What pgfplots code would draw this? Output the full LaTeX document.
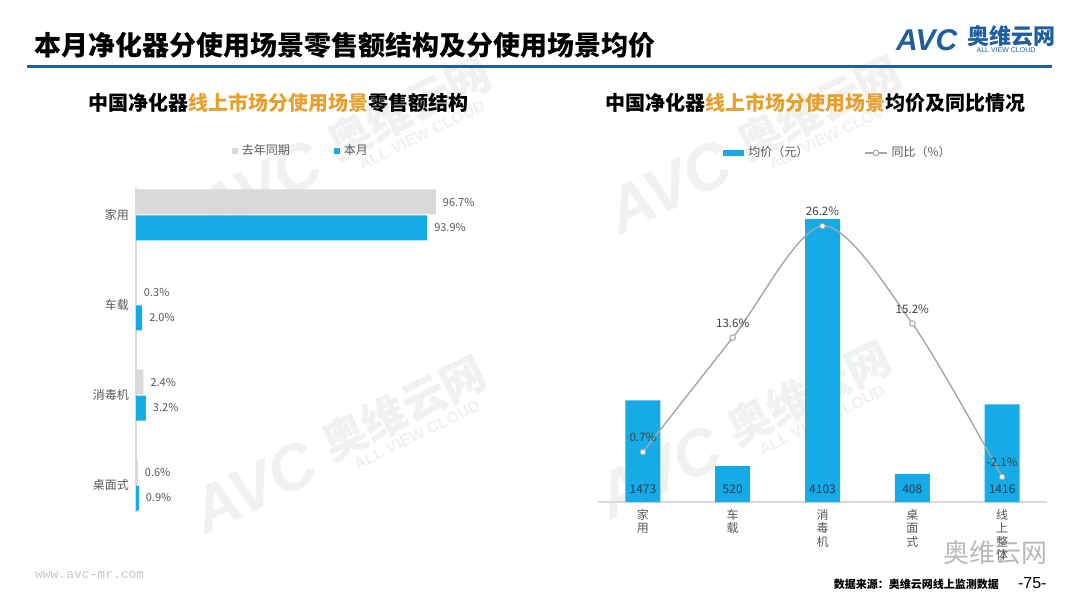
\documentclass[border=0pt]{standalone}
\usepackage{fontspec}
\setmainfont{Noto Sans CJK SC}
\newfontfamily\monofont{Liberation Mono}
\newfontfamily\logofont{Liberation Sans}
\usepackage{pgfplots}
\pgfplotsset{compat=1.18}
\definecolor{barblue}{HTML}{14ABE6}
\definecolor{bargray}{HTML}{D9D9D9}
\definecolor{txtgray}{HTML}{595959}
\definecolor{lbl}{HTML}{404040}
\definecolor{titleblue}{HTML}{1F5F9E}
\definecolor{gold}{HTML}{E5A12F}
\definecolor{linegray}{HTML}{A6A6A6}
\definecolor{navy}{HTML}{2B3A55}
\definecolor{wmgray}{HTML}{F1F1F1}
\newcommand{\fs}[1]{\fontsize{#1}{#1}\selectfont}

\begin{document}
\begin{tikzpicture}
% page frame in pixel units (y down)
\begin{scope}[x=0.5pt,y=-0.5pt]
\path[fill=white,use as bounding box] (0,0) rectangle (1080,608);
% faint watermarks
\foreach \wx/\wy in {335/150, 745/150, 330/450, 735/435} {
  \node[rotate=26,text=wmgray,font=\logofont\bfseries\itshape\fs{32}] at (\wx-76,\wy+37) {AVC};
  \node[rotate=26,text=wmgray,font=\bfseries\fs{22}] at (\wx+74,\wy-42) {奥维云网};
  \node[rotate=26,text=wmgray,font=\logofont\bfseries\fs{8}] at (\wx+87,\wy-15) {ALL VIEW CLOUD};
}
% header
\node[anchor=west,font=\bfseries\fs{13.5}] at (27,45) {本月净化器分使用场景零售额结构及分使用场景均价};
\draw[titleblue,line width=1.5pt] (27,67) -- (1052,67);
\node[anchor=west,text=titleblue,font=\logofont\bfseries\itshape\fs{15}] at (889,40) {AVC};
\node[anchor=west,text=titleblue,font=\bfseries\fs{11}] at (960,36) {奥维云网};
\node[text=titleblue,font=\logofont\fs{3.5}] at (1006,50) {ALL VIEW CLOUD};
% sub titles
\node[font=\bfseries\fs{10}] at (278,103) {中国净化器\textcolor{gold}{线上市场分使用场景}零售额结构};
\node[font=\bfseries\fs{10}] at (815,103) {中国净化器\textcolor{gold}{线上市场分使用场景}均价及同比情况};
% footer
\node[anchor=west,text=gray!45,font=\monofont\fs{6.5}] at (28,575) {www.avc-mr.com};
\node[anchor=west,text=gray!55,font=\fs{13}] at (936,553) {奥维云网};
\node[anchor=east,font=\bfseries\fs{5.5}] at (1006,584) {数据来源：奥维云网线上监测数据};
\node[anchor=west,font=\logofont\fs{8}] at (1011,583) {-75-};
\end{scope}

% left: share of retail sales by scenario (家用 on top)
\begin{axis}[
  at={(68pt,-256pt)}, anchor=south west, scale only axis,
  width=167pt, height=162pt,
  xmin=0, xmax=107.7, ymin=-0.3, ymax=3.3,
  axis x line=none, axis y line*=left,
  y axis line style={draw=bargray,line width=0.6pt},
  ytick={0,1,2,3}, yticklabels={桌面式,消毒机,车载,家用},
  ytick style={draw=none},
  yticklabel style={font=\fs{6},text=txtgray},
  legend columns=2,
  legend style={at={(0.497,1.114)},anchor=center,draw=none,fill=none,
    font=\fs{6},text=txtgray,
    /tikz/every even column/.append style={column sep=20pt}},
  lbls/.style={draw=none,mark=none,forget plot,point meta=explicit symbolic,
    nodes near coords={\pgfplotspointmeta},
    every node near coord/.append style={anchor=west,font=\fs{5.5},text=txtgray}},
]
\addplot[xbar,bar width=12.5pt,bar shift=6.5pt,fill=bargray,draw=none,
  legend image code/.code={\fill[bargray] (0pt,-1.5pt) rectangle (3pt,1.5pt);}]
  coordinates {(96.7,3) (0.3,2) (2.4,1) (0.6,0)};
\addlegendentry{去年同期}
\addplot[xbar,bar width=12.5pt,bar shift=-6.5pt,fill=barblue,draw=none,
  legend image code/.code={\fill[barblue] (0pt,-1.5pt) rectangle (3pt,1.5pt);}]
  coordinates {(93.9,3) (2.0,2) (3.2,1) (0.9,0)};
\addlegendentry{本月}
% value labels, offset by half a bar step (13px of 90px)
\addplot[lbls] coordinates {(96.7,3.144)[96.7\%] (0.3,2.144)[0.3\%] (2.4,1.144)[2.4\%] (0.6,0.144)[0.6\%]};
\addplot[lbls] coordinates {(93.9,2.856)[93.9\%] (2.0,1.856)[2.0\%] (3.2,0.856)[3.2\%] (0.9,-0.144)[0.9\%]};
\end{axis}

% right: average price (bars)
\begin{axis}[
  at={(299pt,-251pt)}, anchor=south west, scale only axis,
  width=224.5pt, height=153.5pt,
  xmin=-0.5, xmax=4.5, ymin=0, ymax=4451,
  axis x line*=bottom, axis y line=none,
  x axis line style={draw=bargray,line width=0.6pt},
  xtick={0,1,2,3,4},
  xticklabels={家\\用,车\\载,消\\毒\\机,桌\\面\\式,线\\上\\整\\体},
  xtick style={draw=none},
  xticklabel style={font=\fontsize{6}{6.8}\selectfont,text=txtgray,align=center},
]
\addplot[ybar,bar shift=0pt,bar width=17.5pt,fill=barblue,draw=none]
  coordinates {(0,1473) (1,520) (2,4103) (3,408) (4,1416)};
\addplot[draw=none,point meta=explicit symbolic,
  nodes near coords={\pgfplotspointmeta},
  every node near coord/.append style={anchor=center,font=\fs{6},text=navy}]
  coordinates {(0,190)[1473] (1,190)[520] (2,190)[4103] (3,190)[408] (4,190)[1416]};
\end{axis}

% right: year-on-year change (line, secondary scale)
\begin{axis}[
  at={(299pt,-251pt)}, anchor=south west, scale only axis,
  width=224.5pt, height=153.5pt,
  xmin=-0.5, xmax=4.5, ymin=-4.94, ymax=29.7,
  hide axis,
  legend columns=2,
  legend style={at={(0.537,1.137)},anchor=center,draw=none,fill=none,
    font=\fs{6},text=txtgray,
    /tikz/every even column/.append style={column sep=26pt}},
]
\addlegendimage{legend image code/.code={\fill[barblue] (0pt,-1.3pt) rectangle (10pt,1.3pt);}}
\addlegendentry{均价（元）}
\addplot[smooth,color=linegray,line width=0.7pt,
  mark=*,mark size=1.4pt,mark options={fill=white,draw=linegray,line width=0.5pt},
  point meta=explicit symbolic,
  nodes near coords={\pgfplotspointmeta},
  every node near coord/.append style={anchor=south,yshift=1.5pt,font=\fs{5.8},text=lbl},
  legend image code/.code={
    \draw[linegray,line width=0.7pt] (0pt,0pt) -- (11pt,0pt);
    \filldraw[fill=white,draw=linegray,line width=0.5pt] (5.5pt,0pt) circle (1.4pt);}]
  coordinates {(0,0.7)[0.7\%] (1,13.6)[13.6\%] (2,26.2)[26.2\%] (3,15.2)[15.2\%] (4,-2.1)[-2.1\%]};
\addlegendentry{同比（\%）}
\end{axis}
\end{tikzpicture}
\end{document}
